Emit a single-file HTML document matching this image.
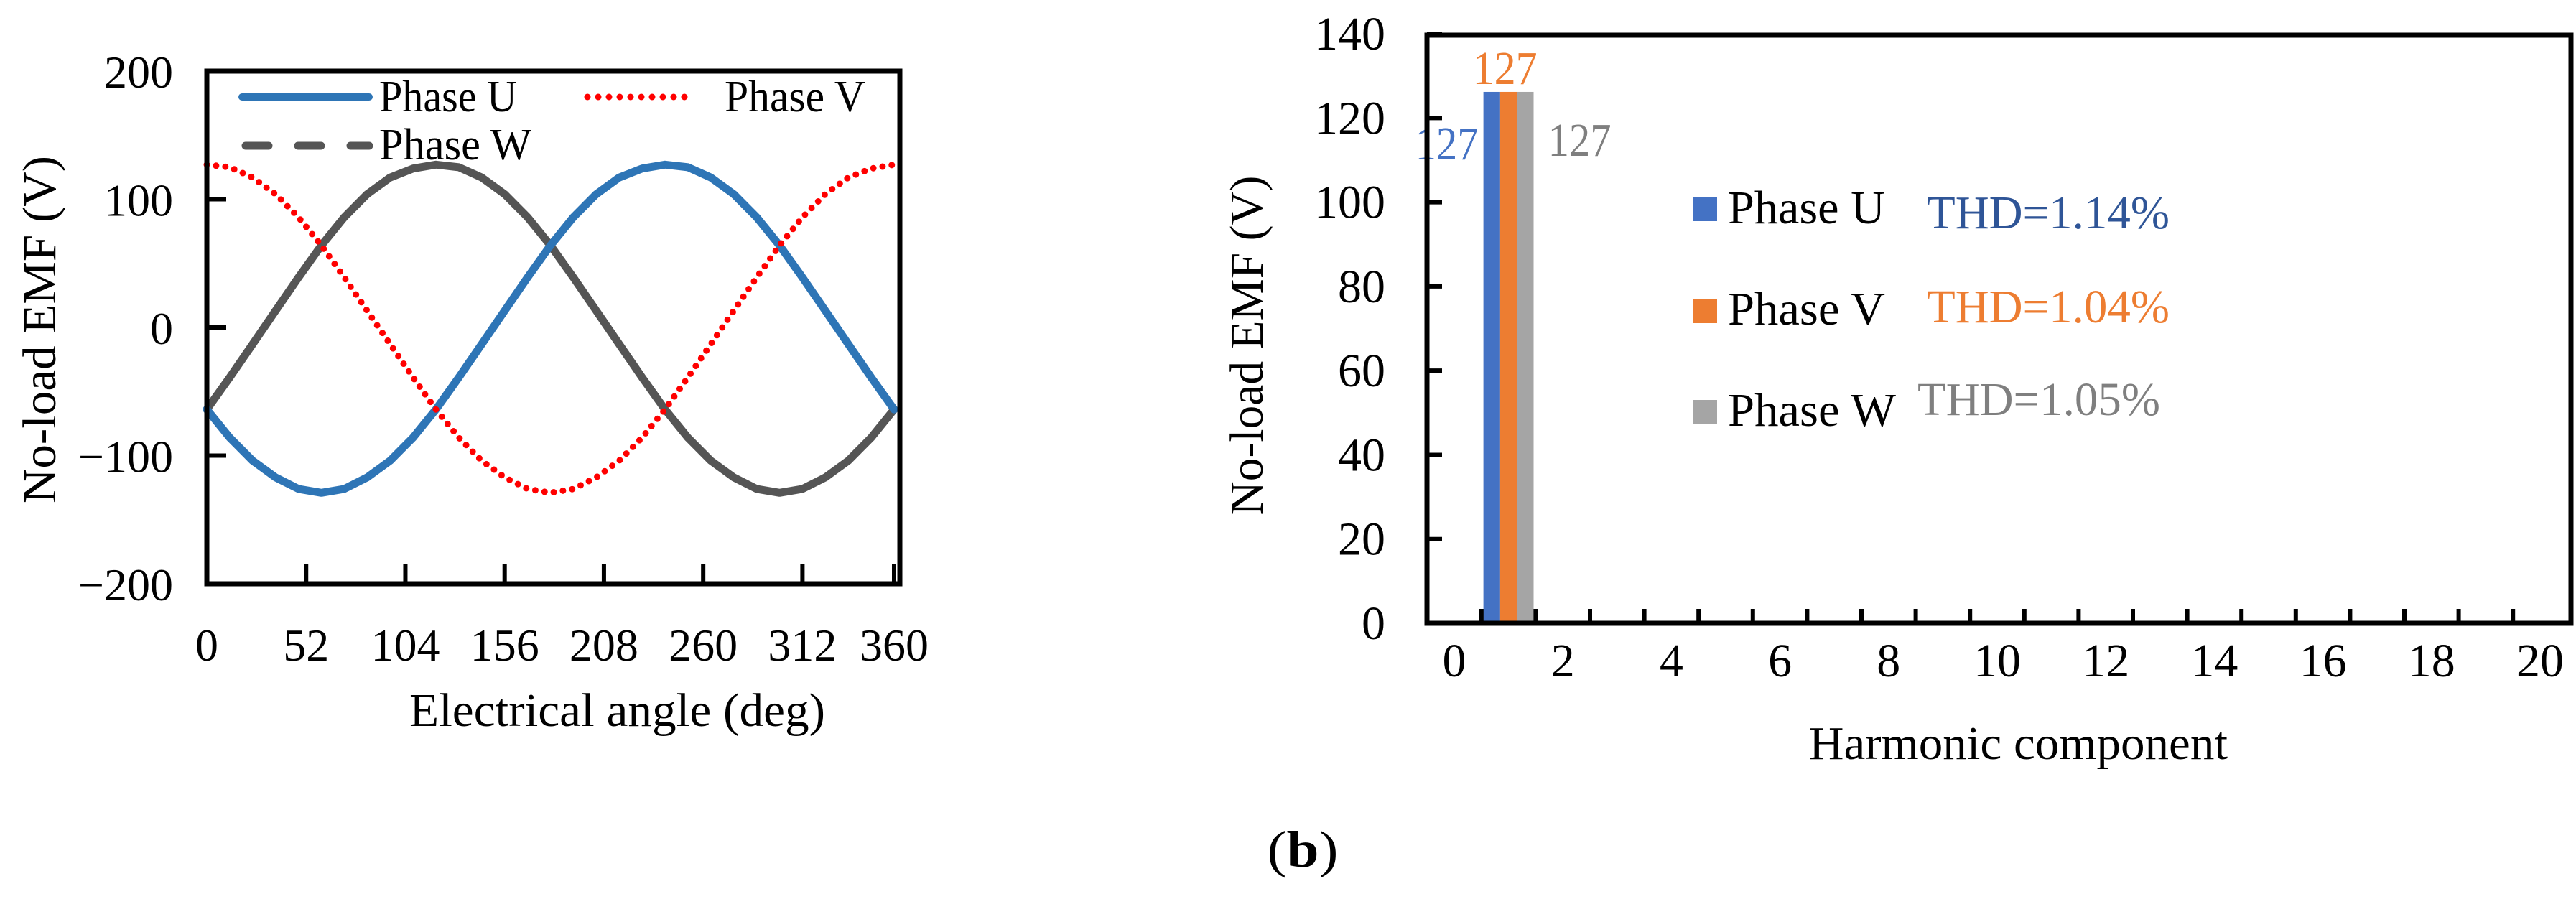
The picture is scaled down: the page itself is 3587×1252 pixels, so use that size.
<!DOCTYPE html>
<html><head><meta charset="utf-8"><style>
html,body{margin:0;padding:0;background:#fff;}
svg{display:block;}
svg text{font-family:"Liberation Serif","Times New Roman","DejaVu Serif",serif;}
</style></head><body>
<svg id="fig" width="3587" height="1252" viewBox="0 0 3587 1252" xmlns="http://www.w3.org/2000/svg" font-family="'Liberation Serif', 'DejaVu Serif', serif">
<g id="left"></g>
<g id="right"></g>
<text x="1814" y="1207" font-size="72" font-family="'Liberation Serif', serif" text-anchor="middle" textLength="99" lengthAdjust="spacingAndGlyphs">(<tspan font-weight="bold">b</tspan>)</text>
</svg>
<script>
// ---- Left chart data ----
const angles = [0,12,24,36,48,60,72,84,96,108,120,132,144,156,168,180,192,204,216,228,240,252,264,276,288,300,312,324,336,348,360];
const phaseU = [-64,-86,-104,-117,-126,-129,-126,-117,-104,-86,-64,-39,-13,13,39,64,86,104,117,124,127,125,117,104,86,64,39,13,-13,-39,-64];
const phaseV = [127,125,117,104,86,64,39,13,-13,-39,-64,-86,-104,-117,-126,-129,-126,-117,-104,-86,-64,-39,-13,13,39,64,86,104,117,124,127];
const phaseW = [-64,-39,-13,13,39,64,86,104,117,124,127,125,117,104,86,64,39,13,-13,-39,-64,-86,-104,-117,-126,-129,-126,-117,-104,-86,-64];
const leftXTicks = [0,52,104,156,208,260,312,360];
const leftYTicks = [-200,-100,0,100,200];
// ---- Right chart data ----
const harmonics = [0,1,2,3,4,5,6,7,8,9,10,11,12,13,14,15,16,17,18,19,20];
const barU = [0,126.2,0,0,0,0,0,0,0,0,0,0,0,0,0,0,0,0,0,0,0];
const barV = [0,126.2,0,0,0,0,0,0,0,0,0,0,0,0,0,0,0,0,0,0,0];
const barW = [0,126.2,0,0,0,0,0,0,0,0,0,0,0,0,0,0,0,0,0,0,0];
const barLabels = ["127","127","127"];
const rightXTicks = [0,2,4,6,8,10,12,14,16,18,20];
const rightYTicks = [0,20,40,60,80,100,120,140];
const thdLabels = ["THD=1.14%","THD=1.04%","THD=1.05%"];

const NS = "http://www.w3.org/2000/svg";
const FONT = "'Liberation Serif', 'DejaVu Serif', serif";
function mk(parent, tag, attrs, text){
  const e = document.createElementNS(NS, tag);
  for (const k in attrs) e.setAttribute(k, attrs[k]);
  if (tag === 'text') e.setAttribute('font-family', FONT);
  if (text !== undefined) e.textContent = text;
  parent.appendChild(e);
  return e;
}

// ===== LEFT =====
const L = document.getElementById('left');
const lx = d => 288 + d * (1245 - 288) / 360;
const ly = v => 456 - v * (714 / 400);

function linePath(xs, ys){ return xs.map((d,i)=>(i?'L':'M')+lx(d).toFixed(1)+' '+ly(ys[i]).toFixed(1)).join(' '); }

let p = mk(L,'path',{d:linePath(angles,phaseW),fill:'none',stroke:'#555555','stroke-width':11,'stroke-linejoin':'round','stroke-linecap':'round'});


p = mk(L,'path',{d:linePath(angles,phaseU),fill:'none',stroke:'#2e75b6','stroke-width':11,'stroke-linejoin':'round','stroke-linecap':'round'});


p = mk(L,'path',{d:linePath(angles,phaseV),fill:'none',stroke:'#ff0000','stroke-width':9,'stroke-linecap':'round','stroke-dasharray':'0 13'});



let fr = mk(L,'rect',{x:288,y:99,width:965,height:714,fill:'none',stroke:'#000','stroke-width':7});



leftXTicks.forEach(t=>{
  const tk = mk(L,'line',{x1:lx(t),x2:lx(t),y1:813,y2:786,stroke:'#000','stroke-width':6});
  
  
  const tl = mk(L,'text',{x:lx(t),y:920,'font-size':64,'text-anchor':'middle'},String(t));
  
  
});
leftYTicks.forEach(t=>{
  const tk = mk(L,'line',{x1:288,x2:315,y1:ly(t),y2:ly(t),stroke:'#000','stroke-width':6});
  
  
  const tl = mk(L,'text',{x:241,y:ly(t)+23,'font-size':64,'text-anchor':'end'},(t<0?'\u2212':'')+Math.abs(t));
  
  
});
let t1 = mk(L,'text',{x:570,y:1011,'font-size':66,textLength:579,lengthAdjust:'spacingAndGlyphs'},'Electrical angle (deg)');


let t2 = mk(L,'text',{x:0,y:0,'font-size':66,'text-anchor':'middle',textLength:484,lengthAdjust:'spacingAndGlyphs',transform:'translate(77,459) rotate(-90)'},'No-load EMF (V)');



// legend
let lg = mk(L,'line',{x1:337,x2:514,y1:135,y2:135,stroke:'#2e75b6','stroke-width':10,'stroke-linecap':'round'});


lg = mk(L,'text',{x:528,y:155,'font-size':62,textLength:192,lengthAdjust:'spacingAndGlyphs'},'Phase U');


lg = mk(L,'line',{x1:818,x2:968,y1:135,y2:135,stroke:'#ff0000','stroke-width':9,'stroke-linecap':'round','stroke-dasharray':'0 15'});


lg = mk(L,'text',{x:1009,y:155,'font-size':62,textLength:196,lengthAdjust:'spacingAndGlyphs'},'Phase V');


lg = mk(L,'line',{x1:342,x2:514,y1:203,y2:203,stroke:'#555555','stroke-width':11,'stroke-linecap':'round','stroke-dasharray':'32 41'});


lg = mk(L,'text',{x:528,y:222,'font-size':62,textLength:212,lengthAdjust:'spacingAndGlyphs'},'Phase W');



// ===== RIGHT =====
const R = document.getElementById('right');
const rx = i => 2025 + i * 75.6;
const ry = v => 868 - v * 5.864;
const bw = 23.3;
const series = [[barU,'#4472c4','bar-phase-u'],[barV,'#ed7d31','bar-phase-v'],[barW,'#a5a5a5','bar-phase-w']];
series.forEach((s,k)=>{
  harmonics.forEach((h,i)=>{
    const v = s[0][i];
    if (v <= 0) return;
    const b = mk(R,'rect',{x:rx(h)-35+k*bw,y:ry(v),width:bw,height:868-ry(v),fill:s[1]});
    
    
  });
});
const fi = 1;
let vl = mk(R,'text',{x:rx(fi)-42,y:ry(barU[fi])+94,'font-size':66,'text-anchor':'end',fill:'#4472c4',textLength:88,lengthAdjust:'spacingAndGlyphs'},barLabels[0]);


vl = mk(R,'text',{x:rx(fi)-50,y:ry(barV[fi])-11,'font-size':66,fill:'#ed7d31',textLength:90,lengthAdjust:'spacingAndGlyphs'},barLabels[1]);


vl = mk(R,'text',{x:rx(fi)+55,y:ry(barW[fi])+89,'font-size':66,fill:'#7f7f7f',textLength:88,lengthAdjust:'spacingAndGlyphs'},barLabels[2]);



fr = mk(R,'path',{d:'M1987 868 V49 H3580 V868 Z',fill:'none',stroke:'#000','stroke-width':7});


harmonics.forEach(h=>{
  if (h === 20) return;
  const tk = mk(R,'line',{x1:rx(h)+37.8,x2:rx(h)+37.8,y1:868,y2:848,stroke:'#000','stroke-width':6});
  
  
});
rightXTicks.forEach(t=>{
  const tl = mk(R,'text',{x:rx(t),y:942,'font-size':66,'text-anchor':'middle'},String(t));
  
  
});
rightYTicks.forEach(t=>{
  const tk = mk(R,'line',{x1:1987,x2:2008,y1:ry(t),y2:ry(t),stroke:'#000','stroke-width':6});
  
  
  const tl = mk(R,'text',{x:1929,y:ry(t)+22,'font-size':66,'text-anchor':'end'},String(t));
  
  
});
t1 = mk(R,'text',{x:2519,y:1057,'font-size':66,textLength:583,lengthAdjust:'spacingAndGlyphs'},'Harmonic component');


t2 = mk(R,'text',{x:0,y:0,'font-size':66,'text-anchor':'middle',textLength:473,lengthAdjust:'spacingAndGlyphs',transform:'translate(1758,481) rotate(-90)'},'No-load EMF (V)');



const legY = [274,416,557];
const legBase = [311,452,593];
const legNames = ['Phase U','Phase V','Phase W'];
const legW = [219,219,234];
const thdX = [2683,2683,2670];
const thdBase = [318,449,578];
const thdCol = ['#2f5597','#ed7d31','#7f7f7f'];
[0,1,2].forEach(k=>{
  const sq = mk(R,'rect',{x:2357,y:legY[k],width:34,height:34,fill:series[k][1]});
  
  
  const lt = mk(R,'text',{x:2406,y:legBase[k],'font-size':66,textLength:legW[k],lengthAdjust:'spacingAndGlyphs'},legNames[k]);
  
  
  const th = mk(R,'text',{x:thdX[k],y:thdBase[k],'font-size':66,fill:thdCol[k],textLength:338,lengthAdjust:'spacingAndGlyphs'},thdLabels[k]);
  
  
});
</script>
</body></html>
